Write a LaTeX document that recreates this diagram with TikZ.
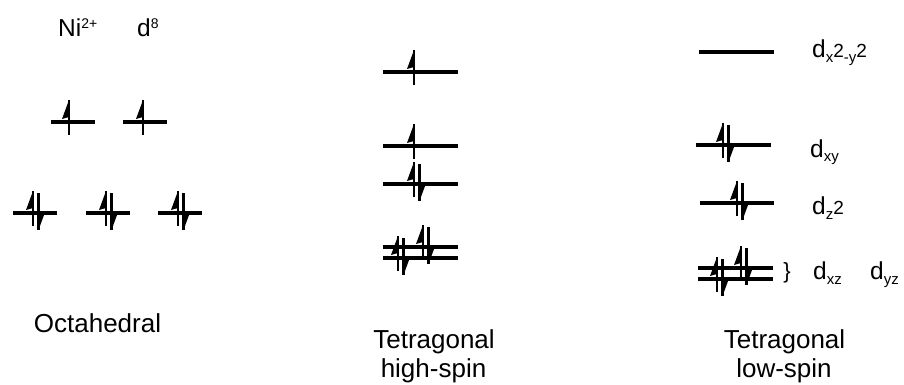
\documentclass[tikz,border=0pt]{standalone}
\usepackage{fontspec}
\setmainfont{Liberation Sans}
\usepackage{tikz}

% half-headed spin arrows, #1 = x, #2 = level
\newcommand{\spinup}[2]{%
  \draw[spin] (#1,#2+13) -- (#1,#2-22);
  \fill (#1,#2-22) -- (#1-7,#2-3) -- (#1,#2-5) -- cycle;}
\newcommand{\spindown}[2]{%
  \draw[spin] (#1,#2-20) -- (#1,#2+17);
  \fill (#1,#2+17) -- (#1+7,#2-2) -- (#1,#2) -- cycle;}
\newcommand{\spinpair}[2]{\spinup{#1}{#2}\spindown{#1+5.5}{#2}}
\newcommand{\dsub}[1]{\raisebox{-5pt}{\fontsize{15}{18}\selectfont #1}}
\newcommand{\dsup}[1]{\raisebox{8pt}{\fontsize{14}{17}\selectfont #1}}
\newcommand{\two}{{\fontsize{19}{22}\selectfont 2}}

\begin{document}
\begin{tikzpicture}[x=1pt,y=-1pt,
  level/.style={line width=3.1pt},
  spin/.style={line width=2.8pt},
  lbl/.style={inner sep=0pt,anchor=base west,font=\fontsize{24.5}{28}\selectfont},
  title/.style={inner sep=0pt,anchor=base,font=\fontsize{26}{30}\selectfont}]
\useasboundingbox (0,0) rectangle (904,385);

% octahedral
\node[lbl] (ion) at (58,37) {Ni\dsup{2+}};
\node[lbl] (conf) at (137,37) {d\dsup{8}};
\foreach \x/\e in {51/69,123/143}{
  \draw[level] (\x,122) -- ++(44,0);
  \spinup{\e}{122}}
\foreach \x in {13,86,158}{
  \draw[level] (\x,213) -- ++(44,0);
  \spinpair{\x+20}{213}}
\node[title] (oct) at (97.5,332) {Octahedral};

% tetragonal high-spin
\foreach \y in {72,146,184,247,258}
  \draw[level] (383,\y) -- (458,\y);
\spinup{414}{72}
\spinup{414}{146}
\spinpair{414}{184}
\spinpair{398}{258}
\spinpair{423}{247}
\node[title] (hs1) at (434,348) {Tetragonal};
\node[title] (hs2) at (433.5,377) {high-spin};

% tetragonal low-spin
\draw[level] (699,52) -- (774,52);
\draw[level] (696,145) -- (771,145);
\draw[level] (700,203) -- (774,203);
\draw[level] (698,268) -- (773,268);
\draw[level] (698,279) -- (773,279);
\spinpair{723}{145}
\spinpair{737}{203}
\spinpair{717}{279}
\spinpair{741}{268}
\node[inner sep=0pt,font=\fontsize{22}{26}\selectfont] (brace) at (787,273) {\}};
\node[lbl] (dx2y2) at (812,58) {d\dsub{x}\two\dsub{-y}\two};
\node[lbl] (dxy) at (810,157) {d\dsub{xy}};
\node[lbl] (dz2) at (812,214) {d\dsub{z}\two};
\node[lbl] (dxz) at (813,279) {d\dsub{xz}};
\node[lbl] (dyz) at (870,279) {d\dsub{yz}};
\node[title] (ls1) at (784.5,348) {Tetragonal};
\node[title] (ls2) at (784,377) {low-spin};

\end{tikzpicture}
\end{document}
